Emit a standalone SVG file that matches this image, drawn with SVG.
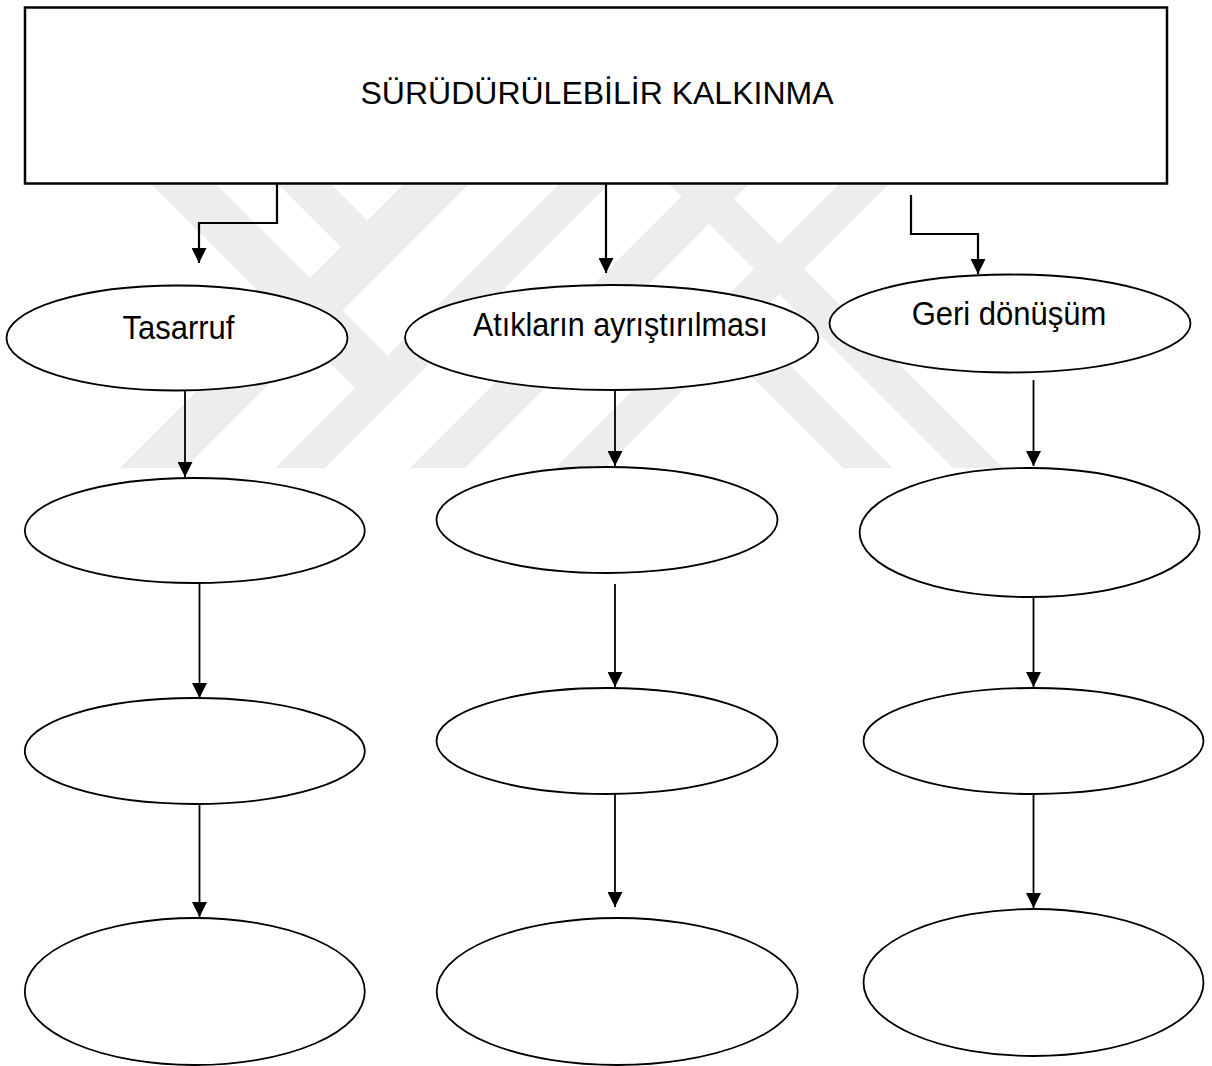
<svg xmlns="http://www.w3.org/2000/svg" width="1212" height="1066" viewBox="0 0 1212 1066">
  <style>
    .node { fill: #ffffff; stroke: #000000; stroke-width: 1.8; }
    .box { fill: #ffffff; stroke: #000000; stroke-width: 2.5; }
    .label { font-family: "Liberation Sans", Arial, sans-serif; fill: #000000; text-anchor: middle; }
    .link { fill: none; stroke: #000000; stroke-width: 1.8; marker-end: url(#head); }
    .link.top { stroke-width: 2.2; }
    .mark { fill: #ededed; }
  </style>
  <defs>
    <marker id="head" markerUnits="userSpaceOnUse" markerWidth="15" markerHeight="15" refX="15" refY="7.5" orient="auto">
      <path d="M0,0 L15,7.5 L0,15 Z" fill="#000000"/>
    </marker>
    <clipPath id="markClip">
      <rect x="100" y="184" width="920" height="284"/>
    </clipPath>
  </defs>

  <rect width="1212" height="1066" fill="#ffffff"/>

  <!-- background emblem: 45 degree bands -->
  <g id="emblem" clip-path="url(#markClip)">
    <polygon class="mark" points="405,183 470,183 185,468 120,468"/>
    <polygon class="mark" points="560,183 610,183 325,468 275,468"/>
    <polygon class="mark" points="695,183 750,183 465,468 410,468"/>
    <polygon class="mark" points="840,183 890,183 605,468 555,468"/>
    <polygon class="mark" points="150,183 215,183 412.5,380.5 380,413"/>
    <polygon class="mark" points="277,183 330,183 400,253 373.5,279.5"/>
    <polygon class="mark" points="691.5,316.5 741.5,316.5 893,468 843,468"/>
    <polygon class="mark" points="668,183 718,183 1003,468 953,468"/>
  </g>

  <!-- title box -->
  <g id="title">
    <rect class="box" x="25" y="7.5" width="1142" height="176"/>
    <text class="label" x="597" y="104" font-size="32">SÜRÜDÜRÜLEBİLİR KALKINMA</text>
  </g>

  <!-- first row -->
  <g id="tasarruf">
    <ellipse class="node" cx="177" cy="338" rx="170.5" ry="52.5"/>
    <text class="label" transform="translate(178.5,339) scale(1,1.09)" font-size="31">Tasarruf</text>
  </g>
  <g id="atiklar">
    <ellipse class="node" cx="611.7" cy="337.5" rx="206.7" ry="52.5"/>
    <text class="label" transform="translate(620.3,336) scale(1,1.09)" font-size="30.5">Atıkların ayrıştırılması</text>
  </g>
  <g id="geri-donusum">
    <ellipse class="node" cx="1010" cy="323.5" rx="180.5" ry="49"/>
    <text class="label" transform="translate(1009,325) scale(1,1.09)" font-size="31">Geri dönüşüm</text>
  </g>

  <!-- empty steps, column 1 -->
  <g id="c1-r2"><ellipse class="node" cx="194.8" cy="530.5" rx="170" ry="52.5"/></g>
  <g id="c1-r3"><ellipse class="node" cx="194.8" cy="751" rx="170" ry="53"/></g>
  <g id="c1-r4"><ellipse class="node" cx="194.8" cy="991.5" rx="170" ry="73.5"/></g>

  <!-- empty steps, column 2 -->
  <g id="c2-r2"><ellipse class="node" cx="607" cy="520" rx="170.5" ry="53"/></g>
  <g id="c2-r3"><ellipse class="node" cx="607" cy="741" rx="170.5" ry="53"/></g>
  <g id="c2-r4"><ellipse class="node" cx="617.2" cy="991.5" rx="180.5" ry="73.5"/></g>

  <!-- empty steps, column 3 -->
  <g id="c3-r2"><ellipse class="node" cx="1029.6" cy="532.5" rx="170" ry="64.5"/></g>
  <g id="c3-r3"><ellipse class="node" cx="1033.5" cy="741" rx="170" ry="53"/></g>
  <g id="c3-r4"><ellipse class="node" cx="1033.5" cy="982.5" rx="170" ry="73.5"/></g>

  <!-- connectors -->
  <g id="connectors">
    <path class="link top" d="M277,183 V223 H199 V263"/>
    <path class="link top" d="M606,183 V273"/>
    <path class="link top" d="M911,195 V234 H978 V274"/>

    <path class="link" d="M185,390 V477"/>
    <path class="link" d="M199.5,583 V698"/>
    <path class="link" d="M199.5,804 V917"/>

    <path class="link" d="M615,390 V466"/>
    <path class="link" d="M615,584 V687"/>
    <path class="link" d="M615,794 V907"/>

    <path class="link" d="M1033.5,380 V466"/>
    <path class="link" d="M1033.5,597 V687"/>
    <path class="link" d="M1033.5,794 V908"/>
  </g>
</svg>
